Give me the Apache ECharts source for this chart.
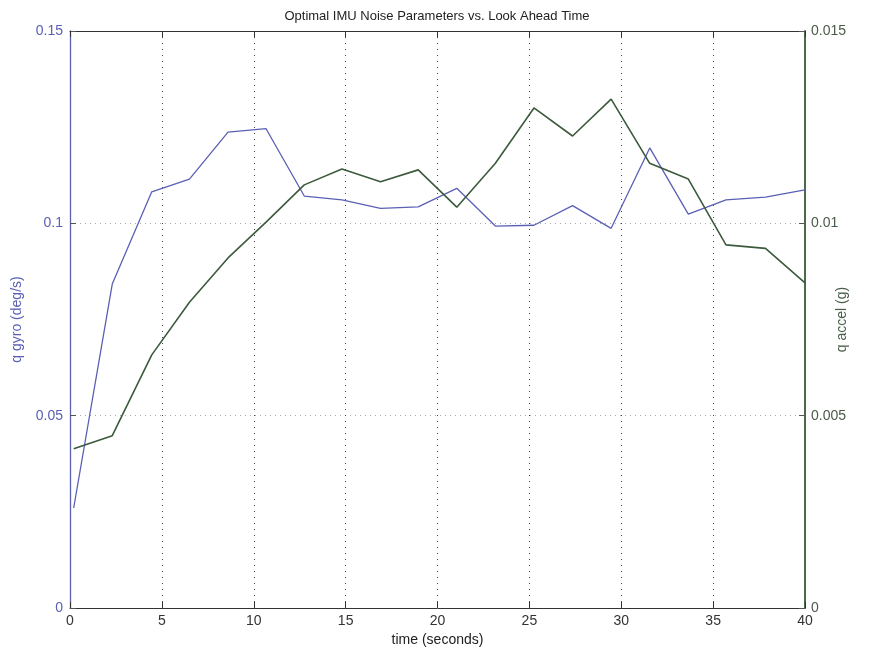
<!DOCTYPE html>
<html>
<head>
<meta charset="utf-8">
<script src="https://cdn.jsdelivr.net/npm/echarts@6/dist/echarts.min.js"></script>
<style>html,body{margin:0;padding:0;background:#fff;}#c{width:874px;height:654px;}</style>
</head>
<body>
<div id="c"></div>
<script>
const timeValues = [0.2, 2.3, 4.45, 6.5, 8.6, 10.67, 12.75, 14.8, 16.9, 18.95, 21.05, 23.15, 25.25, 27.35, 29.45, 31.55, 33.65, 35.7, 37.85, 40];
const qGyro = [0.026, 0.0842, 0.1082, 0.1115, 0.1237, 0.1246, 0.1071, 0.1061, 0.1039, 0.1043, 0.1091, 0.0993, 0.0995, 0.1046, 0.0987, 0.1196, 0.1024, 0.1061, 0.1068, 0.1087];
const qAccel = [0.00414, 0.00448, 0.00658, 0.00795, 0.0091, 0.01003, 0.0110, 0.01141, 0.01108, 0.01139, 0.01042, 0.01156, 0.0130, 0.01227, 0.01323, 0.01156, 0.01115, 0.00944, 0.00935, 0.00845];
const xTicks = [0, 5, 10, 15, 20, 25, 30, 35, 40];
const leftTicks = [0, 0.05, 0.1, 0.15];
const rightTicks = [0, 0.005, 0.01, 0.015];

const blue = '#5a60b4';
const green = '#3c5a3c';
const font = 'Liberation Sans, Arial, sans-serif';

const chart = echarts.init(document.getElementById('c'));
chart.setOption({
  animation: false,
  backgroundColor: '#fff',
  title: {
    text: 'Optimal IMU Noise Parameters vs. Look Ahead Time',
    left: 'center', top: 5,
    textStyle: {fontFamily: font, fontSize: 13, fontWeight: 'normal', color: '#222'}
  },
  grid: {left: 70, right: 69, top: 31, bottom: 46, show: false, containLabel: false, outerBoundsMode: 'none'},
  xAxis: [{
    type: 'value', position: 'bottom', min: xTicks[0], max: xTicks[xTicks.length - 1], interval: 5,
    name: 'time (seconds)', nameLocation: 'middle', nameGap: 23,
    nameTextStyle: {fontFamily: font, fontSize: 14, color: '#222'},
    axisLine: {show: true, onZero: false, lineStyle: {color: '#333'}},
    axisTick: {show: true, inside: true, length: 6, lineStyle: {color: '#333'}},
    axisLabel: {fontFamily: font, fontSize: 14, color: '#333', margin: 6},
    splitLine: {show: true, lineStyle: {type: [1, 5], color: '#444', width: 1}}
  }, {
    type: 'value', position: 'top', min: xTicks[0], max: xTicks[xTicks.length - 1], interval: 5,
    axisLine: {show: true, onZero: false, lineStyle: {color: '#333'}},
    axisTick: {show: true, inside: true, length: 6, lineStyle: {color: '#333'}},
    axisLabel: {show: false},
    splitLine: {show: false}
  }],
  yAxis: [{
    type: 'value', position: 'left', min: leftTicks[0], max: leftTicks[leftTicks.length - 1], interval: 0.05,
    name: 'q gyro (deg/s)', nameLocation: 'middle', nameGap: 46, nameRotate: 90, nameMoveOverlap: false,
    nameTextStyle: {fontFamily: font, fontSize: 14, color: blue},
    axisLine: {show: true, onZero: false, lineStyle: {color: blue, width: 1.3}},
    axisTick: {show: true, inside: true, length: 6, lineStyle: {color: '#555'}},
    axisLabel: {fontFamily: font, fontSize: 14, color: blue, margin: 7},
    splitLine: {show: true, lineStyle: {type: [1, 4], color: '#aaa', width: 1}}
  }, {
    type: 'value', position: 'right', min: rightTicks[0], max: rightTicks[rightTicks.length - 1], interval: 0.005,
    name: 'q accel (g)', nameLocation: 'middle', nameGap: 30, nameRotate: 90, nameMoveOverlap: false,
    nameTextStyle: {fontFamily: font, fontSize: 14, color: '#4a5e4a'},
    axisLine: {show: true, onZero: false, lineStyle: {color: '#4a6a4a', width: 2}},
    axisTick: {show: true, inside: true, length: 6, lineStyle: {color: '#555'}},
    axisLabel: {fontFamily: font, fontSize: 14, color: '#4a5a4a', margin: 6},
    splitLine: {show: false}
  }],
  series: [{
    type: 'line', xAxisIndex: 0, yAxisIndex: 0,
    data: timeValues.map((t, i) => [t, qGyro[i]]),
    showSymbol: false, symbol: 'none',
    lineStyle: {color: blue, width: 1.3}
  }, {
    type: 'line', xAxisIndex: 0, yAxisIndex: 1,
    data: timeValues.map((t, i) => [t, qAccel[i]]),
    showSymbol: false, symbol: 'none',
    lineStyle: {color: green, width: 1.6}
  }]
});
</script>
</body>
</html>
